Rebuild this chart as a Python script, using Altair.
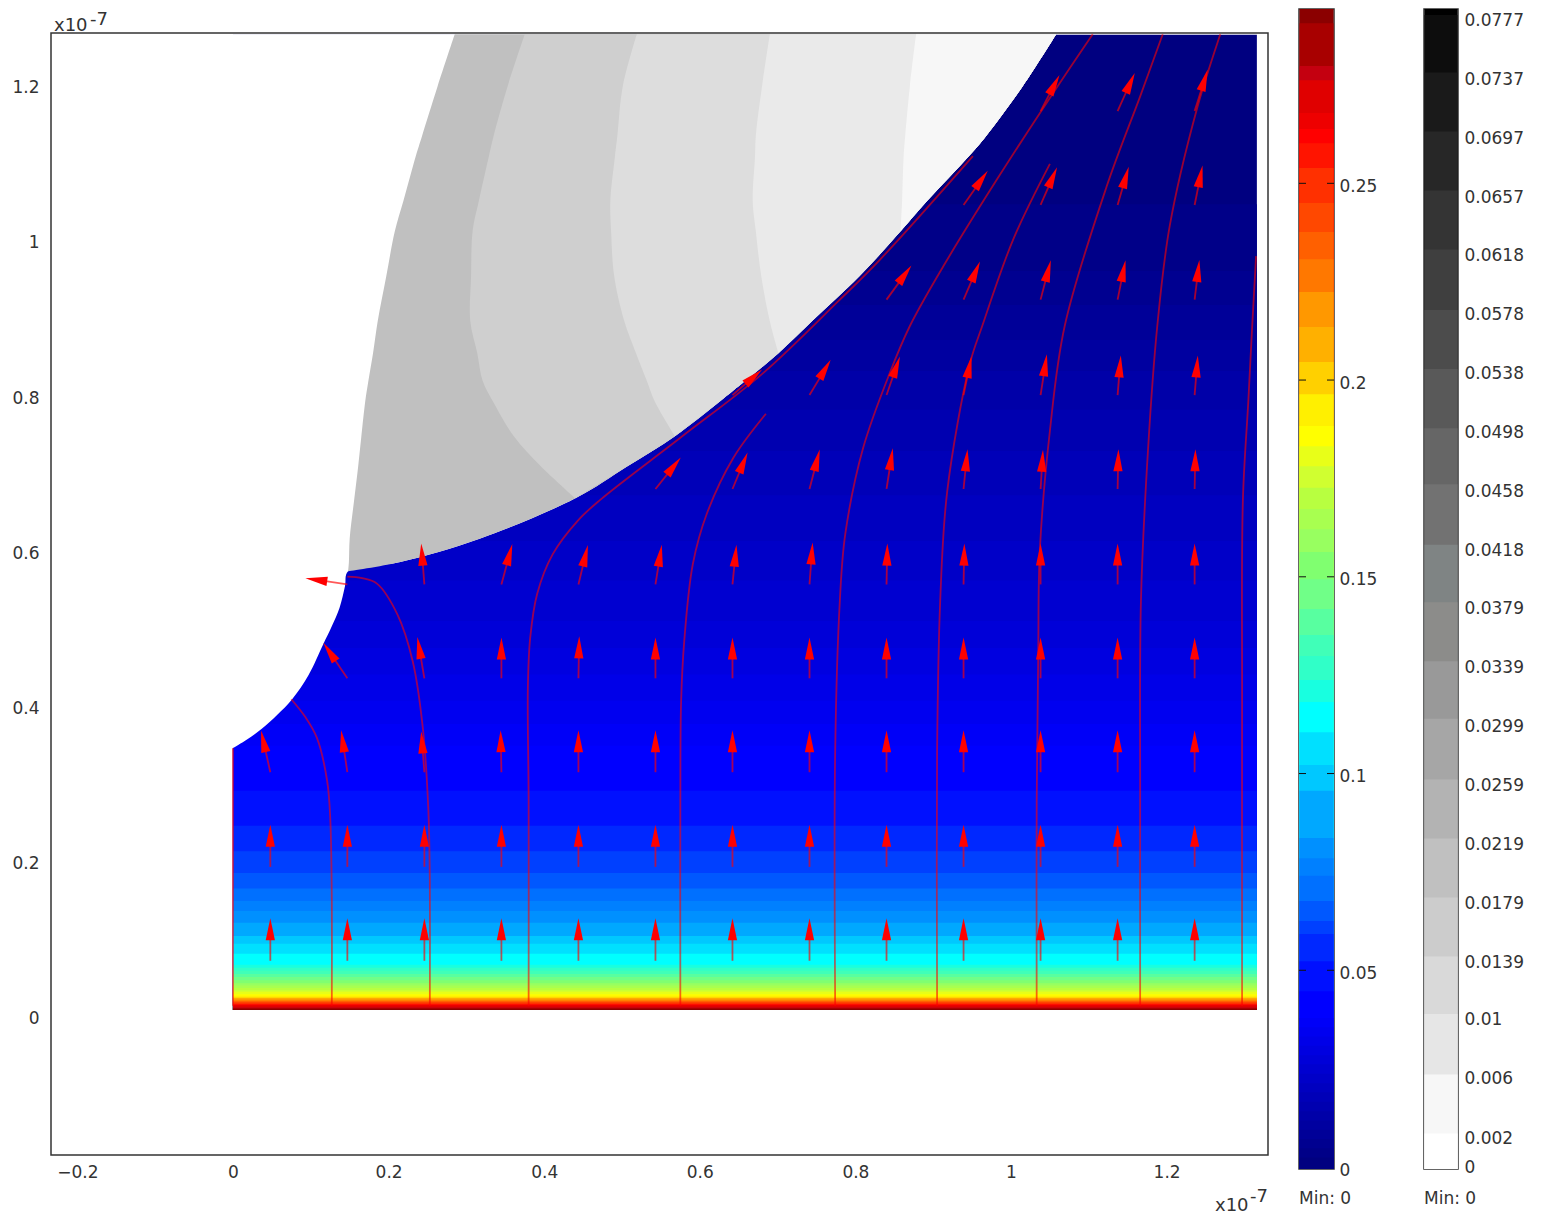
import math
import altair as alt

# ---------- colour levels shared by the surface and its colour bar (low to high)
JET_COLORS = ["#000080","#000088","#000090","#000098","#0000A0","#0000A8","#0000B0","#0000B8","#0000C0","#0000C8",
              "#0000D0","#0000D8","#0000E0","#0000E8","#0000F0","#0000F8","#0000FF","#0010FF","#0028FF",
              "#0040FF","#0058FF","#0070FF","#0080FF","#0090FF","#00A8FF","#00C8FF","#00E0FF","#00FFFF","#18FFE0",
              "#30FFC8","#40FFB8","#58FFA0","#70FF88","#80FF70","#98FF60","#A8FF50","#B8FF40","#D0FF30","#E8FF18",
              "#FFFF00","#FFF000","#FFD000","#FFB000","#FF9800","#FF7800","#FF6000","#FF4800","#FF3000","#FF1400",
              "#FF0000","#EE0000","#E00000","#C40010","#A80000","#8B0000"]
JET_TOPS = [.0024,.0048,.0071,.0095,.0118,.0142,.0166,.0190,.0213,.0237,.0261,.0284,.0308,.0332,.0355,.0379,
            .0447,.0523,.0592,.0625,.0676,.0740,.0785,.0836,.0956,.1022,
            .1105,.1182,.1238,.1299,.1352,.1418,.1494,.1563,.1621,.1672,.1726,.1781,.1832,.1883,.1964,.2046,.2135,
            .2224,.2307,.2376,.2450,.2539,.2602,.2638,.2679,.2762,.2798,.2907,.2943]
JET_TICKS = [0, 0.05, 0.1, 0.15, 0.2, 0.25]
# upper y of each level on the surface (x1e-7)
FIELD_TOPS = [1.2685,1.05,.964,.92,.875,.835,.785,.732,.675,.616,.565,.513,.478,.444,.410,.38,.352,
              .294,.249,.216,.188,.168,.152,.139,.124,.107,.097,.084,.070,
              .066,.062,.058,.054,.050,.046,.043,.040,.037,.035,.032,.030,.028,.027,.026,.024,.023,.022,.021,.019,
              .0187,.018,.017,.015,.014,.013]
FIELD_BOTTOM = .0116
FIELD_LEFT = 0.0
FIELD_RIGHT = 1.316

GRAY_COLORS = ["#FFFFFF","#F7F7F7","#E6E6E6","#D9D9D9","#CCCCCC","#C0C0C0","#B3B3B3","#A6A6A6","#999999","#8C8C8A",
               "#7F8484","#727272","#666666","#595959","#4C4C4C","#3F3F3F","#343434","#272727","#1A1A1A","#0D0D0D","#000000"]
GRAY_TOPS = [.0023,.0063,.0104,.0143,.0183,.0223,.0263,.0304,.0343,.0383,.0422,.0463,.0501,.0541,.0581,.0622,.0662,
             .0702,.0742,.0781,.0785]
GRAY_TICKS = [0,.002,.006,.01,.0139,.0179,.0219,.0259,.0299,.0339,.0379,.0418,.0458,.0498,.0538,.0578,.0618,.0657,
              .0697,.0737,.0777]

# ---------- boundary of the domain and contours of the gray field
ARC_Y = [.349,.360,.374,.392,.412,.443,.483,.506,.530,.558]
ARC_X = [0,.018,.037,.057,.076,.097,.116,.127,.137,.144]
ROW_Y = [1.269,1.202,1.138,1.112,1.054,1.015,.957,.899,.858,.822,.796,.751,.713,.671,.619,.589,.577]
CURVE_X = [1.058,1.015,.968,.946,.892,.858,.805,.744,.701,.658,.626,.568,.508,.440,.317,.215,.148]
EDGE_X = [.285,.263,.243,.235,.219,.208,.197,.186,.180,.174,.170,.165,.161,.156,.150,.149,.148]
C1_X = [.375,.353,.335,.329,.316,.308,.306,.305,.314,.321,.334,.361,.395,.440]
C2_X = [.519,.501,.494,.491,.485,.486,.490,.503,.518,.532,.542,.568]
C3_X = [.690,.680,.672,.671,.668,.672,.679,.690,.701]
C4_X = [.878,.870,.864,.862,.860,.858]
CONTOUR_BANDS = [(EDGE_X,"#C0C0C0"),(C1_X,"#CFCFCF"),(C2_X,"#DDDDDD"),(C3_X,"#EAEAEA"),(C4_X,"#F7F7F7")]

# ---------- streamlines
STREAMS = [
 ([0,0],[.017,.349]),
 ([.127,.127,.125,.121,.108,.093,.075],[.017,.152,.259,.307,.362,.389,.412]),
 ([.253,.253,.251,.244,.231,.211,.185,.166,.147],[.017,.178,.272,.375,.461,.522,.561,.568,.570]),
 ([.380,.380,.379,.382,.391,.411,.443,.472,.575,.681,.778,.832,.951],
  [.017,.281,.427,.491,.548,.599,.642,.669,.749,.832,.925,.979,1.112]),
 ([.575,.575,.576,.580,.591,.609,.643,.685],[.017,.281,.410,.487,.586,.651,.723,.780]),
 ([.774,.774,.780,.787,.810,.844,.870,.913,.982,1.054,1.105],[.017,.345,.539,.625,.736,.832,.893,.970,1.082,1.193,1.269]),
 ([.905,.905,.909,.918,.947,.963,1.003,1.050],[.017,.345,.539,.680,.844,.893,1.005,1.102]),
 ([1.033,1.033,1.035,1.037,1.050,1.069,1.123,1.166,1.195],[.017,.281,.474,.603,.758,.893,1.073,1.189,1.269]),
 ([1.166,1.166,1.167,1.176,1.188,1.204,1.239,1.269],[.017,.281,.539,.732,.893,1.022,1.173,1.269]),
 ([1.297,1.297,1.298,1.305,1.310,1.315],[.017,.410,.668,.796,.893,.983]),
]

# ---------- arrows: tail grid, and per row first column and components
GRID_X = [.048,.147,.246,.345,.444,.543,.642,.741,.840,.939,1.038,1.137,1.236]
GRID_Y = [.075,.196,.318,.439,.560,.683,.804,.927,1.049,1.170]
ARROW_ROWS = [
 (0,[0,0,0,0,0,0,0,0,0,0,0,0,0],[.055]*13),
 (0,[0,0,0,0,0,0,0,0,0,0,0,0,0],[.054]*13),
 (0,[-.012,-.008,-.004,-.001,0,0,0,0,0,0,0,0,0],[.054,.054,.052,.054,.054,.054,.054,.054,.054,.054,.054,.054,.054]),
 (1,[-.031,-.009,0,.001,0,0,0,0,0,0,0,0],[.046,.053,.052,.054,.052,.052,.052,.052,.052,.052,.052,.052]),
 (1,[-.054,-.004,.014,.012,.008,.005,.004,.001,.001,0,0,0],[.008,.052,.052,.050,.050,.050,.054,.052,.052,.052,.052,.052]),
 (5,[.032,.019,.013,.008,.005,.003,.001,.001],[.040,.046,.050,.052,.050,.049,.050,.050]),
 (6,[.037,.027,.017,.010,.008,.004,.004],[.032,.045,.049,.049,.052,.050,.050]),
 (8,[.032,.021,.013,.010,.006],[.044,.049,.050,.050,.050]),
 (9,[.031,.021,.014,.010],[.044,.048,.048,.050]),
 (10,[.024,.022,.017],[.046,.049,.054]),
]

X_TICKS = [-0.2,0,0.2,0.4,0.6,0.8,1,1.2]
Y_TICKS = [0,0.2,0.4,0.6,0.8,1,1.2]
X_DOMAIN = [-0.2339,1.3303]
Y_DOMAIN = [-0.1753,1.2706]
JET_DOMAIN = [-0.0005,.2943]
GRAY_DOMAIN = [-0.0001,.0785]

FONT = "DejaVu Sans"
TEXT = "#333333"
FS = 17
W, H = 1217, 1122
BAR_H = 1160

xs = alt.Scale(domain=X_DOMAIN, nice=False, zero=False)
ys = alt.Scale(domain=Y_DOMAIN, nice=False, zero=False)
x_axis = alt.Axis(values=X_TICKS, format="~g", ticks=False, domain=False, grid=False, labelPadding=9,
                  labelFontSize=FS, labelFont=FONT, labelColor=TEXT, labelFlush=False)
y_axis = alt.Axis(values=Y_TICKS, format="~g", ticks=False, domain=False, grid=False, labelPadding=12,
                  labelFontSize=FS, labelFont=FONT, labelColor=TEXT, minExtent=42, maxExtent=42)
X = lambda f: alt.X(f, scale=xs, title=None, axis=x_axis)
Y = lambda f: alt.Y(f, scale=ys, title=None, axis=y_axis)

band_rows = [{"x0":FIELD_LEFT,"x1":FIELD_RIGHT,"y0":t,"y1":FIELD_BOTTOM,"c":c} for t,c in zip(FIELD_TOPS,JET_COLORS)]
surface = alt.Chart(alt.Data(values=band_rows)).mark_rect().encode(
    x=X("x0:Q"), x2="x1:Q", y=Y("y0:Q"), y2="y1:Q", color=alt.Color("c:N", scale=None))

def area_layer(ys_, left, right, color):
    rows = [{"y":a,"l":b,"r":c} for a,b,c in zip(ys_,left,right)]
    return alt.Chart(alt.Data(values=rows)).mark_area(orient="horizontal", color=color, interpolate="catmull-rom").encode(
        y=Y("y:Q"), x=X("l:Q"), x2="r:Q")

layers = [surface]
layers.append(area_layer(ROW_Y + ARC_Y[::-1], [-0.003]*(len(ROW_Y)+len(ARC_Y)), CURVE_X + ARC_X[::-1], "#FFFFFF"))
for cx, col in CONTOUR_BANDS:
    layers.append(area_layer(ROW_Y[:len(cx)], cx, CURVE_X[:len(cx)], col))

stream_rows = []
for i,(sx,sy) in enumerate(STREAMS):
    for j,(a,b) in enumerate(zip(sx,sy)):
        stream_rows.append({"s":i,"o":j,"x":a,"y":b})
layers.append(alt.Chart(alt.Data(values=stream_rows)).mark_line(color="#FF0000", opacity=0.6, strokeWidth=1.8, interpolate="catmull-rom").encode(
    x=X("x:Q"), y=Y("y:Q"), detail="s:N", order="o:Q"))

arrow_rows = []
for gy,(first,us,vs) in zip(GRID_Y,ARROW_ROWS):
    for k,(u,v) in enumerate(zip(us,vs)):
        tx = GRID_X[first+k]
        arrow_rows.append({"tx":tx,"ty":gy,"mx":tx+.6*u,"my":gy+.6*v,"cx":tx+.74*u,"cy":gy+.74*v,
                           "a":math.degrees(math.atan2(u,v))})
arrows = alt.Data(values=arrow_rows)
layers.append(alt.Chart(arrows).mark_rule(color="#FF0000", opacity=0.65, strokeWidth=1.8).encode(
    x=X("tx:Q"), x2="mx:Q", y=Y("ty:Q"), y2="my:Q"))
layers.append(alt.Chart(arrows).mark_point(shape="M0,-1L0.42,1L-0.42,1Z", filled=True, size=484, color="#FF0000", opacity=1).encode(
    x=X("cx:Q"), y=Y("cy:Q"), angle=alt.Angle("a:Q", scale=None)))

def txt(s, x, y, size=18, baseline="alphabetic"):
    return alt.Chart(alt.Data(values=[{"t":s}])).mark_text(font=FONT, fontSize=size, color=TEXT, align="left", baseline=baseline).encode(
        x=alt.value(x), y=alt.value(y), text="t:N")

layers += [txt("x10",3,-2), txt("-7",39,-22,18,"top"), txt("x10",1164,1178), txt("-7",1199,1169)]

view = alt.ViewConfig(stroke="#333333", strokeWidth=1.5)
main = alt.layer(*layers).properties(width=W, height=H, view=view)

spacer = alt.Chart(alt.Data(values=[{"a":1}])).mark_point(opacity=0, size=1).encode(x=alt.value(10), y=alt.value(1)).properties(
    width=W, height=1, view=alt.ViewConfig(stroke="transparent"))
left_col = alt.vconcat(spacer, main, spacing=23, bounds="flush")

def color_bar(colors, tops, domain, ticks, fmt, width, label_offset, pad, extent, marks):
    sc = alt.Scale(domain=domain, nice=False, zero=False)
    ax = alt.Axis(orient="right", values=ticks, format=fmt, ticks=False, domain=False,
                  grid=False, labelPadding=pad, labelOffset=label_offset, labelFontSize=FS, labelFont=FONT, labelColor=TEXT,
                  labelOverlap=False, labelFlush=False, minExtent=extent, maxExtent=extent)
    rows = [{"t":t,"b":domain[0],"c":c} for t,c in list(zip(tops,colors))[::-1]]
    bar = alt.Chart(alt.Data(values=rows)).mark_rect().encode(
        x=alt.value(0.5), x2=alt.value(width-0.5),
        y=alt.Y("t:Q", scale=sc, title=None, axis=ax),
        y2="b:Q", color=alt.Color("c:N", scale=None))
    parts = [bar]
    if marks:
        tk = alt.Data(values=[{"v":v} for v in marks])
        for a,b in ((0,7),(width-7,width)):
            parts.append(alt.Chart(tk).mark_rule(color="#111111", strokeWidth=1).encode(
                x=alt.value(a), x2=alt.value(b), y=alt.Y("v:Q", scale=sc, title=None, axis=ax)))
    parts.append(txt("Min: 0",0,BAR_H+35,FS))
    return alt.layer(*parts).properties(width=width, height=BAR_H, view=view)

bar1 = color_bar(JET_COLORS, JET_TOPS, JET_DOMAIN, JET_TICKS, ".2~f", 35, 3, 5, 60, JET_TICKS[1:])
bar2 = color_bar(GRAY_COLORS, GRAY_TOPS, GRAY_DOMAIN, GRAY_TICKS, ".4~f", 34, 0, 6, 60, None)

chart = alt.hconcat(left_col, bar1, bar2, spacing=28).properties(padding=0).configure(background="#FFFFFF")
chart.save("out.html", embed_options={"renderer": "svg", "actions": False})
